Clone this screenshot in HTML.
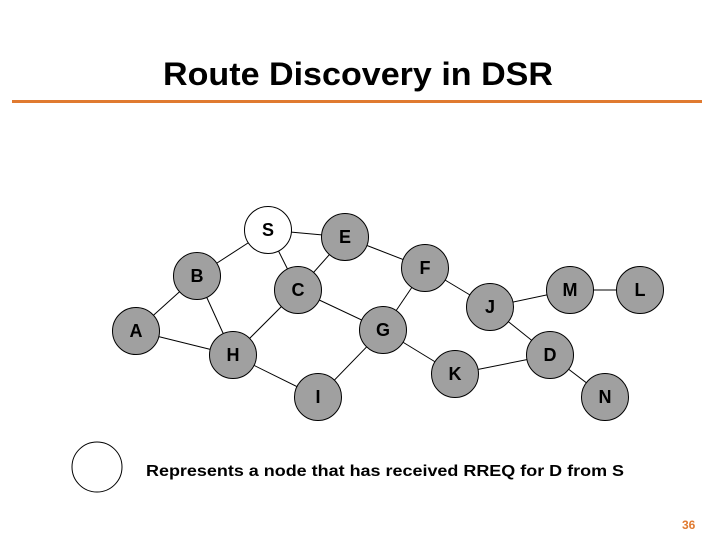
<!DOCTYPE html>
<html><head><meta charset="utf-8"><style>
html,body{margin:0;padding:0;background:#fff;}
svg{display:block;}
text{font-family:"Liberation Sans",Arial,sans-serif;font-weight:bold;}
</style></head><body>
<svg width="720" height="540" viewBox="0 0 720 540" xmlns="http://www.w3.org/2000/svg">
<text x="163" y="85" font-size="32" textLength="390" lengthAdjust="spacingAndGlyphs">Route Discovery in DSR</text>
<rect x="12" y="100" width="690" height="3" fill="#e07a30"/>
<g stroke="#000" stroke-width="1">
<line x1="268" y1="230" x2="345" y2="237"/>
<line x1="268" y1="230" x2="197" y2="276"/>
<line x1="268" y1="230" x2="298" y2="290"/>
<line x1="345" y1="237" x2="298" y2="290"/>
<line x1="345" y1="237" x2="425" y2="268"/>
<line x1="197" y1="276" x2="136" y2="331"/>
<line x1="197" y1="276" x2="233" y2="355"/>
<line x1="136" y1="331" x2="233" y2="355"/>
<line x1="298" y1="290" x2="233" y2="355"/>
<line x1="298" y1="290" x2="383" y2="330"/>
<line x1="425" y1="268" x2="383" y2="330"/>
<line x1="425" y1="268" x2="490" y2="307"/>
<line x1="233" y1="355" x2="318" y2="397"/>
<line x1="383" y1="330" x2="318" y2="397"/>
<line x1="383" y1="330" x2="455" y2="374"/>
<line x1="455" y1="374" x2="550" y2="355"/>
<line x1="490" y1="307" x2="570" y2="290"/>
<line x1="490" y1="307" x2="550" y2="355"/>
<line x1="570" y1="290" x2="640" y2="290"/>
<line x1="550" y1="355" x2="605" y2="397"/>
</g>
<g stroke="#000" stroke-width="1" fill="#a0a0a0">
<circle cx="268" cy="230" r="23.5" fill="#fff"/>
<circle cx="345" cy="237" r="23.5"/>
<circle cx="197" cy="276" r="23.5"/>
<circle cx="298" cy="290" r="23.5"/>
<circle cx="425" cy="268" r="23.5"/>
<circle cx="136" cy="331" r="23.5"/>
<circle cx="233" cy="355" r="23.5"/>
<circle cx="383" cy="330" r="23.5"/>
<circle cx="318" cy="397" r="23.5"/>
<circle cx="455" cy="374" r="23.5"/>
<circle cx="490" cy="307" r="23.5"/>
<circle cx="550" cy="355" r="23.5"/>
<circle cx="570" cy="290" r="23.5"/>
<circle cx="640" cy="290" r="23.5"/>
<circle cx="605" cy="397" r="23.5"/>
</g>
<g font-size="18" text-anchor="middle">
<text x="268" y="236">S</text>
<text x="345" y="243">E</text>
<text x="197" y="282">B</text>
<text x="298" y="296">C</text>
<text x="425" y="274">F</text>
<text x="136" y="337">A</text>
<text x="233" y="361">H</text>
<text x="383" y="336">G</text>
<text x="318" y="403">I</text>
<text x="455" y="380">K</text>
<text x="490" y="313">J</text>
<text x="550" y="361">D</text>
<text x="570" y="296">M</text>
<text x="640" y="296">L</text>
<text x="605" y="403">N</text>
</g>
<ellipse cx="97" cy="467" rx="25" ry="25" fill="#fff" stroke="#000" stroke-width="1"/>
<text x="146" y="476" font-size="16" textLength="478" lengthAdjust="spacingAndGlyphs">Represents a node that has received RREQ for D from S</text>
<text x="682" y="529" font-size="12" fill="#e07a30">36</text>
</svg>
</body></html>
